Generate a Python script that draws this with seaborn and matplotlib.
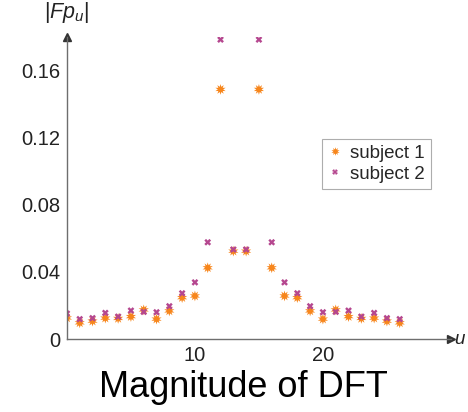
import numpy as np
import pandas as pd
import matplotlib
matplotlib.use("Agg")
import matplotlib.pyplot as plt
import seaborn as sns

# - Data
u = list(range(27))
subject1 = [0.0126, 0.0097, 0.0107, 0.0125, 0.0123, 0.0134, 0.0174, 0.0119, 0.0168,
            0.0247, 0.0257, 0.0425, 0.1488, 0.0524, 0.0524, 0.1488, 0.0425, 0.0257,
            0.0247, 0.0168, 0.0119, 0.0174, 0.0134, 0.0123, 0.0125, 0.0107, 0.0097]
subject2 = [0.0152, 0.0119, 0.0125, 0.0156, 0.0134, 0.0170, 0.0162, 0.0160, 0.0196,
            0.0273, 0.0338, 0.0577, 0.1785, 0.0534, 0.0534, 0.1785, 0.0577, 0.0338,
            0.0273, 0.0196, 0.0160, 0.0162, 0.0170, 0.0134, 0.0156, 0.0125, 0.0119]
series_names = ["subject 1", "subject 2"]
y_ticks = [0, 0.04, 0.08, 0.12, 0.16]
y_ticklabels = ["0", "0.04", "0.08", "0.12", "0.16"]
x_ticks = [10, 20]

df = pd.DataFrame({
    "u": u * 2,
    "value": subject1 + subject2,
    "series": [series_names[0]] * len(u) + [series_names[1]] * len(u),
})

# - Plot settings
sns.set_style("white")
plt.rcParams["font.family"] = ["Liberation Sans", "DejaVu Sans"]
plt.rcParams["mathtext.fontset"] = "custom"
plt.rcParams["mathtext.rm"] = "Liberation Sans"
plt.rcParams["mathtext.it"] = "Liberation Sans:italic"

axis_col = "#6e6e6e"
palette = {"subject 1": "#f7861c", "subject 2": "#b5478f"}
markers = {"subject 1": (10, 1, 0), "subject 2": "X"}

fig = plt.figure(figsize=(4.68, 4.12), dpi=100)
ax = fig.add_axes([0.143, 0.177, 0.8205, 0.733])

sns.scatterplot(data=df, x="u", y="value", hue="series", style="series",
                palette=palette, markers=markers, size="series",
                sizes={"subject 1": 60, "subject 2": 24}, linewidth=0,
                ax=ax)

ax.set_xlim(0, 30)
ax.set_ylim(0, 0.18)
ax.set_xticks(x_ticks)
ax.set_xticks([5, 15, 25], minor=True)
ax.set_yticks(y_ticks)
ax.set_yticklabels(y_ticklabels)
ax.set_yticks([0.02, 0.06, 0.10, 0.14], minor=True)
ax.tick_params(which="both", direction="in", color=axis_col, width=0.8,
               labelsize=14.5, labelcolor="#222222")
ax.tick_params(which="major", length=5)
ax.tick_params(which="minor", length=4)
ax.tick_params(axis="x", pad=5)
ax.tick_params(axis="y", pad=5)
ax.set_xlabel("")
ax.set_ylabel("")

for side in ["top", "right"]:
    ax.spines[side].set_visible(False)
for side in ["left", "bottom"]:
    ax.spines[side].set_color(axis_col)
    ax.spines[side].set_linewidth(1.0)

# arrow heads on the axes
ax.plot(1, 0, ">", color="#333333", ms=6, transform=ax.transAxes, clip_on=False)
ax.plot(0, 1, "^", color="#333333", ms=6, transform=ax.transAxes, clip_on=False)

ax.text(0, 1.04, r"|$\mathit{Fp}_{u}$|", transform=ax.transAxes,
        ha="center", va="bottom", fontsize=15.5, color="#222222")
ax.text(1.008, 0, r"$\mathit{u}$", transform=ax.transAxes,
        ha="left", va="center", fontsize=13.5, color="#222222")

handles, labels = ax.get_legend_handles_labels()
leg = ax.legend(handles, labels, loc="center left", bbox_to_anchor=(0.64, 0.58),
                fontsize=13.5, frameon=True, fancybox=False, handletextpad=0.4,
                borderpad=0.3, labelspacing=0.2, handlelength=0.8,
                markerscale=0.8)
leg.get_frame().set_edgecolor("#999999")
leg.get_frame().set_linewidth(0.8)

fig.text(0.52, 0.036, "Magnitude of DFT", ha="center", va="baseline",
         fontsize=26, color="black")

plt.savefig("out.png", dpi=100)
